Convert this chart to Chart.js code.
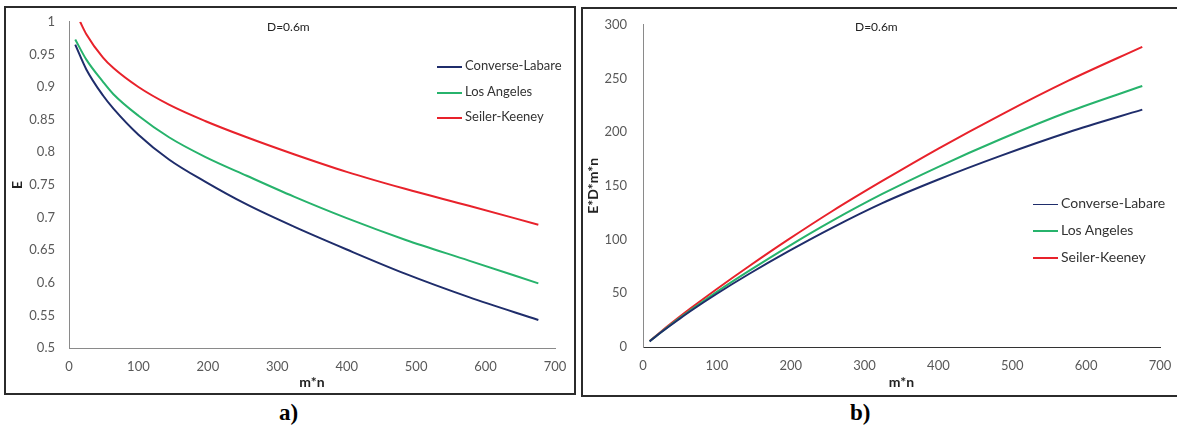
<!DOCTYPE html>
<html>
<head>
<meta charset="utf-8">
<script src="https://cdn.jsdelivr.net/npm/chart.js@4.4.1/dist/chart.umd.min.js"></script>
<style>
  body { margin: 0; background: #fff; width: 1177px; height: 432px; position: relative; overflow: hidden; font-family: Lato, "Open Sans", sans-serif; }
  .panel { position: absolute; border: 2px solid #2b2b2b; box-sizing: border-box; }
  canvas { position: absolute; }
  .note { position: absolute; font-size: 12px; color: #222; }
  .leg { position: absolute; font-size: 13px; color: #333; white-space: nowrap; }
  .leg span { display: inline-block; width: 25px; vertical-align: middle; margin-right: 3px; }
  .tag { position: absolute; font-family: "Liberation Serif", "DejaVu Serif", serif; font-weight: bold; font-size: 23px; color: #000; }
</style>
</head>
<body>
<div class="panel" style="left:4px;top:6px;width:572px;height:389px;"></div>
<div class="panel" style="left:581px;top:7px;width:598px;height:390px;"></div>
<canvas id="chartA" width="566" height="384" style="left:6px;top:8px;"></canvas>
<canvas id="chartB" width="592" height="384" style="left:584px;top:9px;"></canvas>

<div class="note" style="left:267px;top:19px;">D=0.6m</div>
<div class="note" style="left:855px;top:19px;">D=0.6m</div>

<div id="legA"></div>
<div id="legB"></div>

<div class="tag" style="left:279px;top:400px;">a)</div>
<div class="tag" style="left:850px;top:400px;">b)</div>

<script>
// a) efficiency E against m*n
const mnAll = [9, 25, 49, 64, 100, 144, 196, 256, 324, 400, 484, 576, 676];
const mnSK = [16, 25, 49, 64, 100, 144, 196, 256, 324, 400, 484, 576, 676];
const effCL = [0.965, 0.927, 0.887, 0.867, 0.827, 0.789, 0.755, 0.720, 0.686, 0.651, 0.614, 0.578, 0.543];
const effLA = [0.973, 0.942, 0.908, 0.889, 0.856, 0.823, 0.793, 0.764, 0.732, 0.699, 0.666, 0.634, 0.599];
const effSK = [1.0, 0.981, 0.945, 0.929, 0.900, 0.873, 0.848, 0.823, 0.797, 0.770, 0.744, 0.718, 0.689];

// b) E*D*m*n against m*n
const capCL = [5.2, 13.9, 26.0, 33.3, 49.6, 68.2, 88.8, 111, 134, 156, 178, 200, 221];
const capLA = [5.3, 14.1, 26.7, 34.1, 51.4, 71.1, 93.3, 117.4, 142.5, 167.8, 193.4, 219, 243];
const capSK = [5.5, 14.7, 27.8, 35.7, 54.0, 75.4, 99.7, 126.4, 154.6, 184.8, 216, 248, 279.5];

const seriesNames = ["Converse-Labare", "Los Angeles", "Seiler-Keeney"];
const seriesColors = ["#1f2d6b", "#27b36c", "#e8222b"];

function pts(xs, ys) {
  return xs.map((x, i) => ({ x: x, y: ys[i] }));
}

function lineSet(i, data) {
  return {
    label: seriesNames[i],
    data: data,
    borderColor: seriesColors[i],
    borderWidth: 2,
    pointRadius: 0,
    fill: false,
    cubicInterpolationMode: "monotone",
  };
}

const tickFont = { family: "Lato, 'Open Sans', sans-serif", size: 13 };
const titleFont = { family: "Lato, 'Open Sans', sans-serif", size: 14, weight: "bold" };

function makeChart(id, datasets, yOpts, dims) {
  return new Chart(document.getElementById(id), {
    type: "line",
    data: { datasets: datasets },
    options: {
      responsive: false,
      animation: false,
      layout: { padding: { top: dims.top, right: dims.right, bottom: 0, left: 0 } },
      plugins: { legend: { display: false }, tooltip: { enabled: false } },
      scales: {
        x: {
          type: "linear",
          min: 0,
          max: 700,
          ticks: { stepSize: 100, color: "#595959", font: tickFont, maxRotation: 0 },
          grid: { display: false },
          border: { display: true, color: dims.xAxisColor, width: 1 },
          title: { display: true, text: "m*n", color: "#222", font: titleFont, padding: { top: 0, bottom: dims.xTitlePad } },
          afterFit: (s) => { s.height = dims.xHeight; },
        },
        y: {
          min: yOpts.min,
          max: yOpts.max,
          ticks: {
            stepSize: yOpts.step,
            color: "#595959",
            font: tickFont,
            padding: dims.yTickPad,
            callback: (v) => String(+v.toFixed(2)),
          },
          grid: { display: false },
          border: { display: true, color: "#8a8a8a", width: 1 },
          title: { display: true, text: yOpts.title, color: "#222", font: titleFont, padding: { top: dims.yTitlePad, bottom: 0 } },
          afterFit: (s) => { s.width = dims.yWidth; },
        },
      },
    },
  });
}

makeChart("chartA",
  [lineSet(0, pts(mnAll, effCL)), lineSet(1, pts(mnAll, effLA)), lineSet(2, pts(mnSK, effSK))],
  { min: 0.5, max: 1, step: 0.05, title: "E" },
  { top: 9, right: 17, xHeight: 44, yWidth: 63, xTitlePad: 1, yTitlePad: 3, yTickPad: 6, xAxisColor: "#8a8a8a" });

makeChart("chartB",
  [lineSet(0, pts(mnAll, capCL)), lineSet(1, pts(mnAll, capLA)), lineSet(2, pts(mnAll, capSK))],
  { min: 0, max: 300, step: 50, title: "E*D*m*n" },
  { top: 8, right: 16, xHeight: 46, yWidth: 59, xTitlePad: 2, yTitlePad: 1, yTickPad: 8, xAxisColor: "#333" });

function buildLegend(id, left, tops, fontSize, widths) {
  const box = document.getElementById(id);
  seriesNames.forEach((name, i) => {
    const item = document.createElement("div");
    item.className = "leg";
    item.style.left = left + "px";
    item.style.top = tops[i] + "px";
    item.style.fontSize = fontSize + "px";
    item.innerHTML = '<span style="height:' + widths[i] + 'px;background:' + seriesColors[i] + ';"></span>' + name;
    box.appendChild(item);
  });
}

buildLegend("legA", 437, [57, 83, 108], 13, [2, 2, 2]);
buildLegend("legB", 1033, [194, 221, 248], 14, [1, 2, 2]);
</script>
</body>
</html>
